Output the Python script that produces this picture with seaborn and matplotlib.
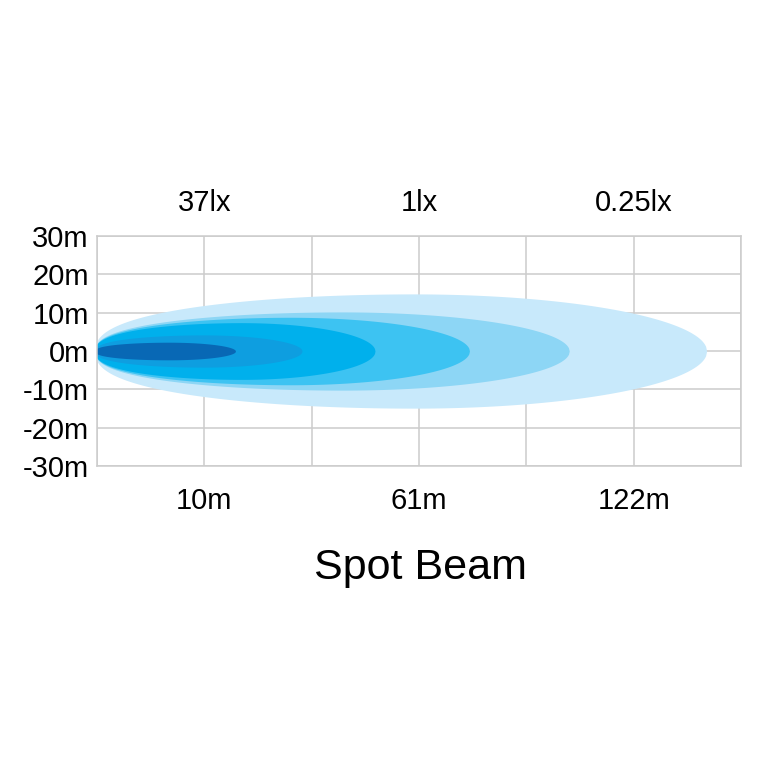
import matplotlib
matplotlib.use("Agg")
import matplotlib.pyplot as plt
import numpy as np
import seaborn as sns

# beam layers, outermost first: reach in grid units, half-width in metres
beam_reach = [5.68, 4.40, 3.47, 2.59, 1.91, 1.29]
beam_halfwidth = [14.9, 10.2, 8.8, 7.4, 4.2, 2.3]
beam_colors = ["#c8e9fb", "#8dd6f5", "#3dc3f2", "#00b0ec", "#0e9ee0", "#0868b5"]

dist_labels = ["10m", "61m", "122m"]
lux_labels = ["37lx", "1lx", "0.25lx"]
label_pos = [1, 3, 5]
grid_x = [0, 1, 2, 3, 4, 5, 6]
y_ticks = [30, 20, 10, 0, -10, -20, -30]

sns.set_theme(style="white")
plt.rcParams['font.family'] = ['Liberation Sans', 'DejaVu Sans']
plt.rcParams['text.color'] = 'black'
plt.rcParams['xtick.color'] = 'black'
plt.rcParams['ytick.color'] = 'black'

fig = plt.figure(figsize=(7.68, 7.68), dpi=100)
ax = fig.add_axes([0.1263, 0.3932, 0.8385, 0.2995])

start = -0.02
for reach, half, col in zip(beam_reach, beam_halfwidth, beam_colors):
    peak = 0.52 * reach
    x = np.linspace(start, reach, 600)
    u = np.where(x < peak, (peak - x) / (peak - start), (x - peak) / (reach - peak))
    expo = np.where(x < peak, 0.4, 0.5)
    w = half * np.clip(1 - u ** 2, 0, None) ** expo
    ax.fill_between(x, -w, w, color=col, linewidth=0, zorder=2)

ax.set_xlim(0, 6)
ax.set_ylim(-30, 30)

# grid lines on every column, labels only on 1, 3, 5
ax.set_xticks(grid_x)
ax.set_xticklabels([dist_labels[label_pos.index(g)] if g in label_pos else "" for g in grid_x],
                   fontsize=21)
ax.set_yticks(y_ticks)
ax.set_yticklabels([f"{v}m" for v in y_ticks], fontsize=21)
ax.grid(True, color="#cccccc", lw=1.1, zorder=1)
ax.set_axisbelow(True)
ax.tick_params(axis="x", length=0, pad=15)
ax.tick_params(axis="y", length=0, pad=6)
for s in ax.spines.values():
    s.set_color("#cccccc")
    s.set_linewidth(1.1)

top = ax.secondary_xaxis("top")
top.set_xticks(label_pos)
top.set_xticklabels(lux_labels, fontsize=21)
top.tick_params(length=0, pad=14)
top.spines["top"].set_visible(False)

fig.text(0.548, 1 - 568 / 768, "Spot Beam", fontsize=31, ha="center", va="center")

fig.savefig("out.png", dpi=100, facecolor="white")
